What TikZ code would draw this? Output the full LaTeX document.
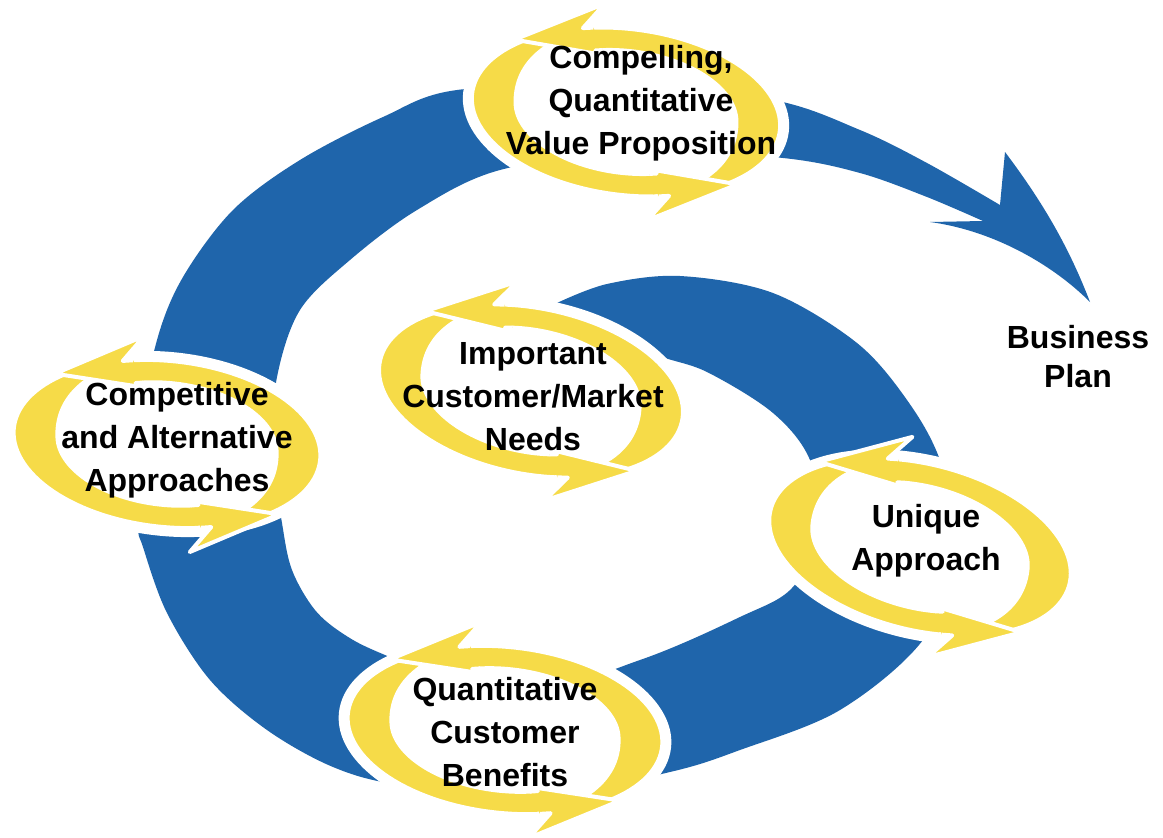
\documentclass[tikz,border=0pt]{standalone}
\usepackage{fontspec}
\setmainfont{Liberation Sans}
\definecolor{bandblue}{RGB}{31,101,171}
\definecolor{ringyellow}{RGB}{246,219,72}

% half axes of the outer rim of a ring and the widest crescent thickness
\newcommand{\ringA}{154}
\newcommand{\ringB}{83}
\newcommand{\ringW}{44}

% crescent body: starts as a thin tail at angle #1, runs counterclockwise 185 degrees
\newcommand{\crescent}[1]{%
  \filldraw[ringpiece]
    plot[domain=#1:#1+185, samples=64, variable=\vv]
      ({\ringA*cos(\vv)}, {-\ringB*sin(\vv)})
    -- plot[domain=#1+185:#1, samples=64, variable=\vv]
      ({(\ringA-thk(\vv,#1))*cos(\vv)}, {-(\ringB-0.5*thk(\vv,#1))*sin(\vv)})
    -- cycle;}

% swept arrow head placed where a crescent body ends (angle #1)
\newcommand{\crescenthead}[1]{%
  \filldraw[ringpiece]
    ({\ringA*cos(#1-4)}, {-\ringB*sin(#1-4)})
    -- ({\ringA*cos(#1)}, {-\ringB*sin(#1)})
    -- ({(\ringA+24)*cos(#1-9)}, {-(\ringB+24)*sin(#1-9)})
    -- ({(\ringA+6)*cos(#1+28)}, {-(\ringB+4)*sin(#1+28)})
    -- ({(\ringA-\ringW-6)*cos(#1-7)}, {-(\ringB-0.5*\ringW-6)*sin(#1-7)})
    -- ({(\ringA-\ringW)*cos(#1)}, {-(\ringB-0.5*\ringW)*sin(#1)})
    -- ({(\ringA-\ringW)*cos(#1-4)}, {-(\ringB-0.5*\ringW)*sin(#1-4)});}

% a ring of two chasing arrows: centre (#1,#2), tilt #3 degrees, half width #4
\newcommand{\cyclering}[4]{%
  \begin{scope}[shift={(#1,#2)}, rotate=-#3]
    \renewcommand{\ringA}{#4}%
    \fill[white] (0,0) ellipse [x radius=\ringA+9, y radius=\ringB+9];
    \crescent{105}
    \crescent{285}
    \crescenthead{290}
    \crescenthead{470}
  \end{scope}}

\begin{document}
\begin{tikzpicture}[x=1pt, y=-1pt,
  declare function={thk(\xa,\xb)=\ringW*sin(90*min(1,(\xa-\xb)/80));},
  ringpiece/.style={fill=ringyellow, draw=white, line width=4pt, line join=round},
  ringtext/.style={align=center, inner sep=0pt, text=black,
    font=\bfseries\fontsize{32}{43}\selectfont}]

\fill[white] (0,0) rectangle (1163,838);
\useasboundingbox (0,0) rectangle (1163,838);

% the blue spiral band, from its pointed tail to the arrow head
\fill[bandblue]
  plot[smooth, tension=0.55] coordinates {
    (557,303) (607,284) (680,276) (773,293) (857,343) (907,400) (940,460)
    (962,550) (923,640) (840,710) (740,750) (670,772) (535,798) (400,785)
    (333,767) (267,730) (210,680) (167,613) (143,547) (138,523) (140,430)
    (157,340) (183,277) (233,210) (300,160) (383,117) (457,90) (620,85)
    (773,100) (860,130) (927,163) (1000,205)}
  -- (1005,152)
  .. controls (1045,205) and (1070,250) .. (1090,302)
  .. controls (1050,262) and (990,230) .. (930,222)
  -- (983,221)
  -- plot[smooth, tension=0.55] coordinates {
    (983,221) (927,197) (860,173) (783,158) (640,150) (500,170) (417,210)
    (350,260) (300,310) (277,377) (272,450) (282,523) (292,570) (315,610)
    (345,635) (385,655) (500,700) (640,660) (740,617) (792,588) (822,530)
    (810,460) (773,413) (707,372) (657,355) (610,330) (557,303)}
  -- cycle;

% the five rings of chasing arrows
\cyclering{626}{112}{7}{155}
\cyclering{167}{444}{6}{154}
\cyclering{531}{391}{11}{154}
\cyclering{920}{547}{14}{154}
\cyclering{505}{730}{6}{158}

% labels
\node[ringtext] (cvp) at (641,103) {Compelling,\\Quantitative\\Value Proposition};
\node[ringtext] (cmp) at (177,440) {Competitive\\and Alternative\\Approaches};
\node[ringtext] (imp) at (533,397) {Important\\Customer/Market\\Needs};
\node[ringtext] (unq) at (926,541) {Unique\\Approach};
\node[ringtext] (qcb) at (505,732) {Quantitative\\Customer\\Benefits};
\node[ringtext, font=\bfseries\fontsize{32}{39}\selectfont] (bp) at (1078,357) {Business\\Plan};

\end{tikzpicture}
\end{document}
